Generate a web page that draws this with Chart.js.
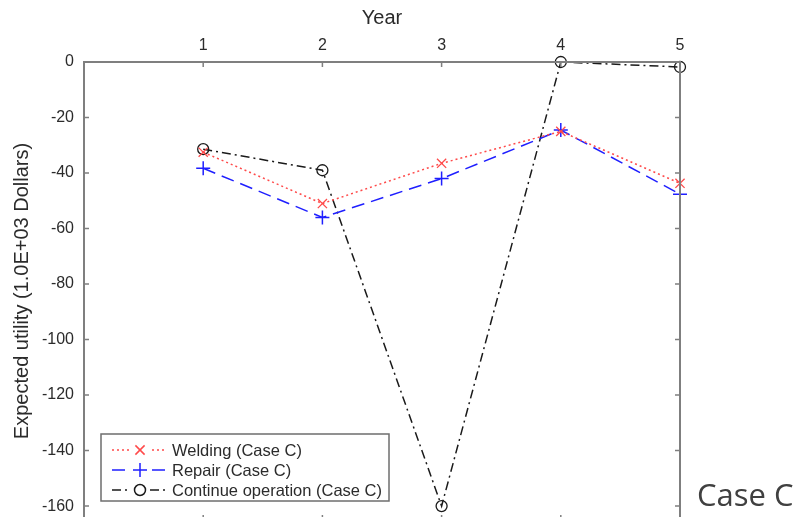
<!DOCTYPE html>
<html>
<head>
<meta charset="utf-8">
<script src="https://cdn.jsdelivr.net/npm/chart.js@4.4.1/dist/chart.umd.min.js"></script>
<style>
  body { margin: 0; overflow: hidden; background: #fff; }
  #wrap { position: relative; width: 795px; height: 517px; overflow: hidden; }
  #myChart { display: block; }
  #caseLabel { position: absolute; left: 697px; top: 479px; line-height: 1; font-family: "Open Sans", "Liberation Sans", sans-serif; font-size: 31px; color: #404040; }
</style>
</head>
<body>
<div id="wrap">
  <canvas id="myChart" width="795" height="530" style="width:795px;height:530px"></canvas>
  <div id="caseLabel">Case C</div>
</div>
<script>
var years = [1, 2, 3, 4, 5];
var welding = [-32.5, -51, -36.5, -25, -43.7];
var repair = [-38.3, -56, -42, -24.5, -47.6];
var continueOp = [-31.4, -39, -160, 0, -1.8];
var yTicks = [0, -20, -40, -60, -80, -100, -120, -140, -160];
var xTicks = [1, 2, 3, 4, 5];

var seriesNames = ['Welding (Case C)', 'Repair (Case C)', 'Continue operation (Case C)'];

function pts(vals) {
  return years.map(function (y, i) { return { x: y, y: vals[i] }; });
}

var axisColor = '#7f7f7f';
var textColor = '#2b2b2b';

// box + inward ticks like the original
var boxPlugin = {
  id: 'box',
  afterDatasetsDraw: function (chart) {
    var ctx = chart.ctx, a = chart.chartArea;
    var xs = chart.scales.x, ys = chart.scales.y;
    ctx.save();
    ctx.strokeStyle = axisColor;
    ctx.lineWidth = 2;
    ctx.strokeRect(a.left, a.top, a.right - a.left, a.bottom - a.top);
    ctx.lineWidth = 1.5;
    ctx.beginPath();
    xTicks.forEach(function (t) {
      var px = xs.getPixelForValue(t);
      ctx.moveTo(px, a.top); ctx.lineTo(px, a.top + 5);
      ctx.moveTo(px, a.bottom); ctx.lineTo(px, a.bottom - 5);
    });
    yTicks.forEach(function (t) {
      var py = ys.getPixelForValue(t);
      ctx.moveTo(a.left, py); ctx.lineTo(a.left + 5, py);
      ctx.moveTo(a.right, py); ctx.lineTo(a.right - 5, py);
    });
    ctx.stroke();
    ctx.restore();
  }
};

// matlab style legend box in lower left
var legendPlugin = {
  id: 'mlegend',
  afterDraw: function (chart) {
    var ctx = chart.ctx;
    var bx = 101, by = 434, bw = 288, bh = 67;
    ctx.save();
    ctx.fillStyle = '#fff';
    ctx.fillRect(bx, by, bw, bh);
    ctx.strokeStyle = '#6e6e6e';
    ctx.lineWidth = 1.5;
    ctx.strokeRect(bx, by, bw, bh);
    chart.data.datasets.forEach(function (ds, i) {
      var cy = by + 16 + i * 20;
      ctx.strokeStyle = ds.borderColor;
      ctx.lineWidth = ds.borderWidth;
      ctx.setLineDash(ds.borderDash);
      ctx.beginPath();
      ctx.moveTo(112, cy); ctx.lineTo(167, cy);
      ctx.stroke();
      ctx.setLineDash([]);
      ctx.fillStyle = '#fff';
      ctx.fillRect(131, cy - 7, 18, 14);
      Chart.helpers.drawPoint(ctx, {
        pointStyle: ds.pointStyle, radius: ds.pointRadius, borderWidth: ds.pointBorderWidth
      }, 140, cy);
      ctx.fillStyle = textColor;
      ctx.font = '16.5px "Liberation Sans", Arial, sans-serif';
      ctx.textBaseline = 'middle';
      ctx.fillText(ds.label, 172, cy + 1);
    });
    ctx.restore();
  }
};

var ctx = document.getElementById('myChart');
var chart = new Chart(ctx, {
  type: 'line',
  data: {
    datasets: [{
      label: seriesNames[0],
      data: pts(welding),
      borderColor: '#ff4a4a',
      backgroundColor: 'transparent',
      borderWidth: 1.5,
      borderDash: [2, 3],
      pointStyle: 'crossRot',
      pointRadius: 6.5,
      pointBorderWidth: 1.3,
      pointBorderColor: '#ff4a4a',
      fill: false
    }, {
      label: seriesNames[1],
      data: pts(repair),
      borderColor: '#1f1fff',
      backgroundColor: 'transparent',
      borderWidth: 1.5,
      borderDash: [13, 7],
      pointStyle: 'cross',
      pointRadius: 7,
      pointBorderWidth: 1.5,
      pointBorderColor: '#1f1fff',
      fill: false
    }, {
      label: seriesNames[2],
      data: pts(continueOp),
      borderColor: '#1a1a1a',
      backgroundColor: 'transparent',
      borderWidth: 1.5,
      borderDash: [9, 4, 2, 4],
      pointStyle: 'circle',
      pointRadius: 5.5,
      pointBorderWidth: 1.3,
      pointBorderColor: '#1a1a1a',
      pointBackgroundColor: 'transparent',
      fill: false
    }]
  },
  options: {
    responsive: false,
    maintainAspectRatio: false,
    animation: false,
    clip: false,
    layout: { padding: { left: 0, right: 115, top: 0, bottom: 10 } },
    plugins: {
      legend: { display: false },
      tooltip: { enabled: false }
    },
    scales: {
      x: {
        type: 'linear',
        position: 'top',
        min: 0,
        max: 5,
        afterFit: function (s) { s.height = 62; s.paddingLeft = 0; s.paddingRight = 0; },
        afterBuildTicks: function (s) { s.ticks = xTicks.map(function (v) { return { value: v }; }); },
        grid: { display: false, drawTicks: false },
        border: { display: false },
        ticks: {
          color: textColor,
          padding: 7,
          maxRotation: 0,
          font: { family: '"Liberation Sans", Arial, sans-serif', size: 16 }
        },
        title: {
          display: true,
          text: 'Year',
          color: textColor,
          padding: { top: 6, bottom: 0 },
          font: { family: '"Liberation Sans", Arial, sans-serif', size: 20 }
        }
      },
      y: {
        min: -165,
        max: 0,
        afterFit: function (s) { s.width = 84; s.paddingTop = 0; s.paddingBottom = 0; },
        afterBuildTicks: function (s) { s.ticks = yTicks.map(function (v) { return { value: v }; }); },
        grid: { display: false, drawTicks: false },
        border: { display: false },
        ticks: {
          color: textColor,
          padding: 10,
          font: { family: '"Liberation Sans", Arial, sans-serif', size: 16 }
        },
        title: {
          display: true,
          text: 'Expected utility (1.0E+03 Dollars)',
          color: textColor,
          padding: { top: 10, bottom: 0 },
          font: { family: '"Liberation Sans", Arial, sans-serif', size: 20 }
        }
      }
    }
  },
  plugins: [boxPlugin, legendPlugin]
});
</script>
</body>
</html>
